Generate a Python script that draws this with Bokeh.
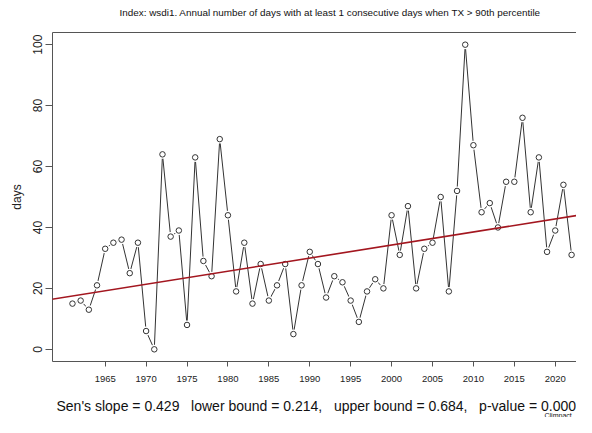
from bokeh.plotting import figure
from bokeh.models import (ColumnDataSource, FixedTicker, LinearAxis, Title, Slope, Range1d)
from bokeh.embed import file_html
from bokeh.resources import INLINE

# ---- data ----
years = list(range(1961, 2023))
days = [15, 16, 13, 21, 33, 35, 36, 25, 35, 6, 0, 64, 37, 39, 8, 63, 29, 24, 69, 44,
        19, 35, 15, 28, 16, 21, 28, 5, 21, 32, 28, 17, 24, 22, 16, 9, 19, 23, 20, 44,
        31, 47, 20, 33, 35, 50, 19, 52, 100, 67, 45, 48, 40, 55, 55, 76, 45, 63, 32, 39,
        54, 31]
x_ticks = [1965, 1970, 1975, 1980, 1985, 1990, 1995, 2000, 2005, 2010, 2015, 2020]
y_ticks = [0, 20, 40, 60, 80, 100]
sens_slope = 0.429
trend_at_1961 = 17.5
title_text = "Index: wsdi1. Annual number of days with at least 1 consecutive days when TX > 90th percentile"
SP = " \u00a0 "
stats_text = ("Sen's slope = 0.429" + SP + "lower bound = 0.214," + SP +
              "upper bound = 0.684," + SP + "p-value = 0.000")
credit_text = "Climpact"

FONT = "Liberation Sans"
AXC = "#555555"

src = ColumnDataSource(dict(year=years, days=days))

p = figure(width=576, height=417, output_backend="svg", toolbar_location=None,
           x_range=Range1d(1958.56, 2022.6), y_range=Range1d(-4, 104),
           min_border_left=52, min_border_right=0, min_border_top=0, min_border_bottom=0,
           x_axis_location=None, y_axis_location=None)
p.outline_line_color = None
p.grid.visible = False
p.background_fill_color = "white"
p.border_fill_color = "white"

# axes
xax = LinearAxis(ticker=FixedTicker(ticks=x_ticks))
xax.axis_line_color = AXC
xax.major_tick_line_color = AXC
xax.major_tick_in = 0
xax.major_tick_out = 5
xax.minor_tick_line_color = None
xax.major_label_text_font = FONT
xax.major_label_text_font_size = "9.5px"
xax.major_label_text_color = "#222222"
xax.major_label_standoff = 9
xax.axis_label = "\u00a0"
xax.axis_label_text_font_size = "1px"
xax.axis_label_standoff = 6
p.add_layout(xax, "below")

yax = LinearAxis(ticker=FixedTicker(ticks=y_ticks))
yax.axis_line_color = AXC
yax.major_tick_line_color = AXC
yax.major_tick_in = 0
yax.major_tick_out = 7
yax.minor_tick_line_color = None
yax.major_label_orientation = "vertical"
yax.major_label_text_font = FONT
yax.major_label_text_font_size = "12px"
yax.major_label_text_color = "#222222"
yax.major_label_standoff = 3
yax.axis_label = "days"
yax.axis_label_text_font = FONT
yax.axis_label_text_font_size = "12px"
yax.axis_label_text_font_style = "normal"
yax.axis_label_text_color = "#222222"
yax.axis_label_standoff = 7
p.add_layout(yax, "left")

top = LinearAxis(ticker=FixedTicker(ticks=[]))
top.axis_line_color = AXC
top.major_tick_line_color = None
top.minor_tick_line_color = None
top.major_label_text_font_size = "0px"
top.major_label_standoff = 0
top.axis_label = "\u00a0"
top.axis_label_text_font_size = "6px"
top.axis_label_standoff = 1
p.add_layout(top, "above")

# texts as layout titles
p.add_layout(Title(text=title_text, align="left", offset=67, text_font=FONT,
                   text_font_size="9.9px", text_font_style="normal",
                   text_color="#111111", standoff=9), "above")
p.add_layout(Title(text=stats_text, align="left", offset=4, text_font=FONT,
                   text_font_size="14px", text_font_style="normal",
                   text_color="#111111", standoff=2), "below")
p.add_layout(Title(text=credit_text, align="left", offset=492, text_font=FONT,
                   text_font_size="7px", text_font_style="normal",
                   text_color="#111111", standoff=-6, vertical_align="top"), "below")

# series: line, gaps, open circles
p.line("year", "days", source=src, line_color="#333333", line_width=1)
p.scatter("year", "days", source=src, size=9, fill_color="white", line_color=None)
p.scatter("year", "days", source=src, marker="circle", size=5.5, fill_color=None,
          line_color="#333333", line_width=1)

# trend
p.add_layout(Slope(gradient=sens_slope, y_intercept=trend_at_1961 - sens_slope * years[0],
                   line_color="#a3161f", line_width=1.6))

open("out.html", "w").write(file_html(p, INLINE))
